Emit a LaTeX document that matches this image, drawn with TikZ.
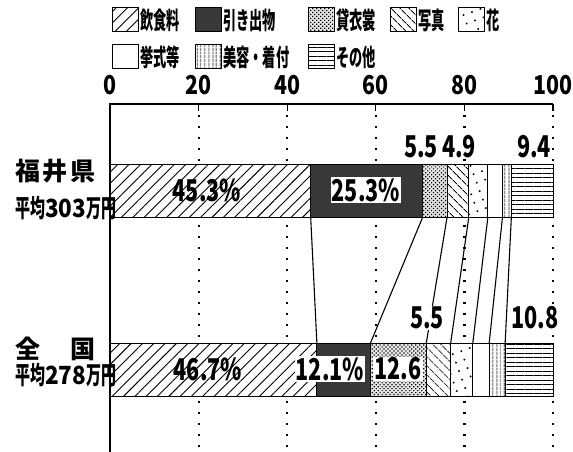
\documentclass[tikz,border=0pt]{standalone}
\usepackage{fontspec}
\setmainfont{Noto Sans CJK JP}
\usepackage{graphicx}
\usetikzlibrary{patterns.meta}
\newcommand{\squeeze}[2]{\scalebox{#1}[1]{#2}}
\tikzset{
  food/.style={preaction={fill=white},pattern={Lines[angle=45,distance=8pt,line width=0.9pt]}},
  gift/.style={fill=black!78},
  dress/.style={preaction={fill=black!10},pattern={Dots[angle=45,distance=2.8pt,radius=0.85pt]}},
  photo/.style={preaction={fill=white},pattern={Lines[angle=-45,distance=6.5pt,line width=0.9pt]}},
  flower/.style={preaction={fill=white},pattern={Dots[angle=20,distance=9pt,radius=1.1pt]}},
  rite/.style={fill=white},
  beauty/.style={preaction={fill=white},pattern={Lines[angle=90,distance=4pt,line width=0.9pt]}},
  other/.style={preaction={fill=white},pattern={Lines[distance=4.5pt,line width=0.9pt]}},
  seg/.style={draw,line width=1pt},
  legtext/.style={anchor=west,inner sep=0pt,font=\fontsize{24}{24}\selectfont\bfseries},
  ticklab/.style={inner sep=0pt,font=\fontsize{26}{26}\selectfont\bfseries},
  val/.style={inner sep=1pt,font=\fontsize{30}{30}\selectfont\bfseries},
  rowlab/.style={anchor=west,inner sep=0pt,font=\fontsize{25}{25}\selectfont\bfseries},
  gridline/.style={line width=2.2pt,dash pattern=on 2pt off 9pt},
  link/.style={line width=1.1pt},
}
\begin{document}
\begin{tikzpicture}[x=1pt,y=-1pt]
\useasboundingbox (0,0) rectangle (573,452);
\fill[white] (0,0) rectangle (573,452);
% legend
\foreach \xx/\yy/\s/\t in {112/20/food/飲食料,195/20/gift/引き出物,308/20/dress/貸衣裳,390/20/photo/写真,458/20/flower/花,
  112/57/rite/挙式等,195/57/beauty/美容・着付,308/57/other/その他}{
  \draw[seg,\s] (\xx,\yy-12) rectangle (\xx+26,\yy+12);
  \node[legtext] (l-\s) at (\xx+28,\yy) {\squeeze{0.55}{\t}};
}
% axis and scale
\coordinate (o) at (110,104);
\coordinate (e) at (553,104);
\draw[line width=1.5pt] (110,452) -- (o) -- (e);
\foreach \v in {20,40,60,80,100}{
  \draw[gridline] ({110+4.43*\v},115) -- ({110+4.43*\v},452);
  \draw[line width=1.3pt] ({110+4.43*\v},104) -- ({110+4.43*\v},111);
}
\foreach \v in {0,20,...,100}
  \node[ticklab] (t\v) at ({110+4.43*\v},85) {\squeeze{0.82}{\v}};
% bars
\foreach \a/\b/\s [count=\i] in {0/45.3/food,45.3/70.6/gift,70.6/76.1/dress,76.1/81.0/photo,
  81.0/85.3/flower,85.3/88.6/rite,88.6/90.6/beauty,90.6/100/other}{
  \draw[seg,\s] ({110+4.43*\a},164) rectangle ({110+4.43*\b},217);
  \coordinate (f\i) at ({110+4.43*\b},217);
}
\foreach \a/\b/\s [count=\i] in {0/46.7/food,46.7/58.8/gift,58.8/71.4/dress,71.4/76.9/photo,
  76.9/81.9/flower,81.9/85.6/rite,85.6/89.2/beauty,89.2/100/other}{
  \draw[seg,\s] ({110+4.43*\a},343) rectangle ({110+4.43*\b},396);
  \coordinate (z\i) at ({110+4.43*\b},343);
}
\foreach \i in {1,...,7}
  \draw[link] (f\i) -- (z\i);
% values
\node[val] (f-food) at (207,190) {\squeeze{0.72}{45.3\%}};
\node[val,fill=white] (f-gift) at (366,190) {\squeeze{0.72}{25.3\%}};
\node[val,fill=white] (f-dress) at (421,147) {\squeeze{0.72}{5.5}};
\node[val,fill=white] (f-photo) at (459,147) {\squeeze{0.72}{4.9}};
\node[val,fill=white] (f-other) at (534,147) {\squeeze{0.72}{9.4}};
\node[val] (z-food) at (208,369) {\squeeze{0.72}{46.7\%}};
\node[val,fill=white] (z-gift) at (330,369) {\squeeze{0.72}{12.1\%}};
\node[val,fill=white] (z-dress) at (398,369) {\squeeze{0.72}{12.6}};
\node[val,fill=white] (z-photo) at (427,318) {\squeeze{0.72}{5.5}};
\node[val,fill=white] (z-other) at (535,318) {\squeeze{0.72}{10.8}};
% row labels
\node[rowlab] (fukui) at (15,171) {\makebox[80pt][l]{福\hfill 井\hfill 県}};
\node[rowlab] (fukui-avg) at (15,208) {\squeeze{0.6}{平均}\squeeze{0.9}{303}\squeeze{0.6}{万円}};
\node[rowlab] (zenkoku) at (15,349) {\makebox[80pt][l]{全\hfill 国}};
\node[rowlab] (zenkoku-avg) at (15,375) {\squeeze{0.6}{平均}\squeeze{0.9}{278}\squeeze{0.6}{万円}};
\end{tikzpicture}
\end{document}
